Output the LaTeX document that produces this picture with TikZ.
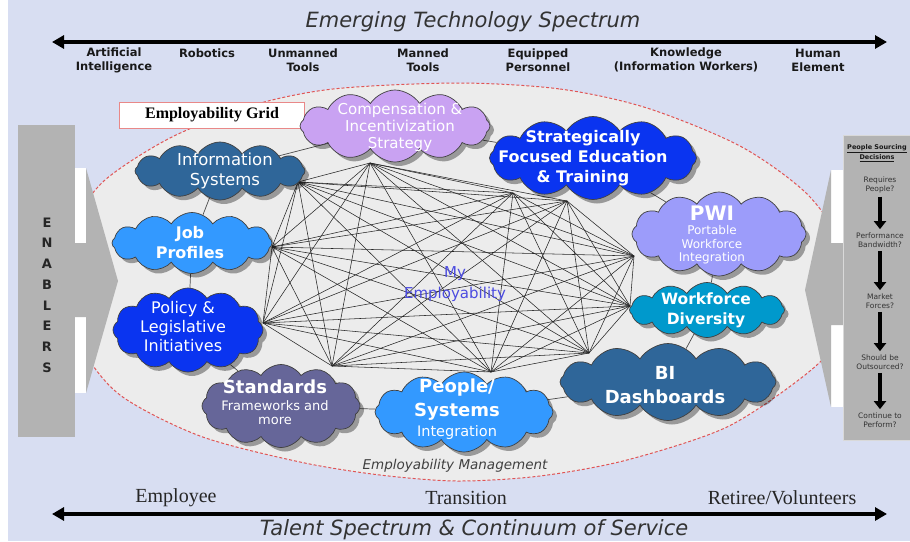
\documentclass[tikz,border=0pt]{standalone}
\usepackage{fontspec}
\setmainfont{DejaVu Sans}
\newfontfamily\tnr{Liberation Serif}
\usetikzlibrary{shapes.symbols,shadows,arrows.meta}
\definecolor{bgl}{HTML}{D8DEF2}
\definecolor{ellf}{HTML}{ECECEC}
\definecolor{reddash}{HTML}{E05555}
\definecolor{bargray}{HTML}{B3B3B3}
\definecolor{cComp}{HTML}{C9A2F2}
\definecolor{cIS}{HTML}{2F6699}
\definecolor{cBlue}{HTML}{0A34F0}
\definecolor{cLight}{HTML}{3399FF}
\definecolor{cPWI}{HTML}{9C9CFA}
\definecolor{cWD}{HTML}{0099CC}
\definecolor{cStd}{HTML}{666699}
\definecolor{cMy}{HTML}{4B4BE0}
\pgfdeclarelayer{back}
\pgfdeclarelayer{mid}
\pgfsetlayers{back,mid,main}
\tikzset{
  cl/.style={cloud, cloud puffs=12, cloud puff arc=115, cloud ignores aspect,
    draw=black!75, line width=.7pt, inner sep=0pt,
    drop shadow={shadow xshift=4pt, shadow yshift=-4pt, fill=black, opacity=0.35}},
  ct/.style={text=white, align=center, inner sep=0pt},
  gridline/.style={draw=black!85, line width=.55pt},
  ringline/.style={draw=black!70, line width=.7pt},
  spec/.style={line width=3.5pt, {Triangle[length=12pt,width=13pt]}-{Triangle[length=12pt,width=13pt]}},
  toplab/.style={font=\bfseries\fontsize{11.5}{14}\selectfont, align=center, text=black!90, inner sep=0pt},
  botlab/.style={font=\tnr\fontsize{20}{22}\selectfont, text=black!85, inner sep=0pt},
  ttl/.style={font=\itshape\fontsize{21}{24}\selectfont, text=black!80, inner sep=0pt},
  ptext/.style={font=\fontsize{7.5}{9.5}\selectfont, text=black!80, align=center, inner sep=0pt},
  darrow/.style={line width=4pt, -{Triangle[length=8pt,width=12pt]}, shorten <=3pt, shorten >=3pt},
}
\begin{document}
\begin{tikzpicture}[x=1pt,y=-1pt]
\useasboundingbox (0,0) rectangle (910,541);
\begin{pgfonlayer}{back}
\fill[white] (0,0) rectangle (910,541);
\fill[bgl] (8,0) rectangle (910,541);
% big employability region
\def\ellpts{(458,83) (560,89) (647,108) (740,146) (805,192) (840,240) (853,290) (840,338) (805,375) (727,427) (627,460) (540,476) (458,481) (380,475) (300,462) (200,436) (120,395) (80,345) (64,290) (78,220) (105,180) (170,138) (250,106) (333,89)}
\fill[ellf] plot[smooth cycle] coordinates {\ellpts};
\draw[reddash, line width=1pt, dash pattern=on 3pt off 2pt] plot[smooth cycle] coordinates {\ellpts};
\end{pgfonlayer}

% titles and spectrum arrows
\node[ttl] (ttop) at (473,22) {Emerging Technology Spectrum};
\coordinate (tl) at (52,42);
\coordinate (tr) at (887,42);
\draw[spec] (tl) -- (tr);
\node[toplab] (l1) at (114,60) {Artificial\\Intelligence};
\node[toplab] (l2) at (207,53) {Robotics};
\node[toplab] (l3) at (303,60) {Unmanned\\Tools};
\node[toplab] (l4) at (423,60) {Manned\\Tools};
\node[toplab] (l5) at (538,60) {Equipped\\Personnel};
\node[toplab] (l6) at (686,60) {Knowledge\\(Information Workers)};
\node[toplab] (l7) at (818,60) {Human\\Element};

\node[botlab] (b1) at (176,498) {Employee};
\node[botlab] (b2) at (466,498) {Transition};
\node[botlab] (b3) at (782,498) {Retiree/Volunteers};
\coordinate (bl) at (52,514);
\coordinate (br) at (887,514);
\draw[spec] (bl) -- (br);
\node[ttl] (tbot) at (474,530) {Talent Spectrum \& Continuum of Service};

% enablers
\fill[bargray] (18,125) rectangle (75,437);
\fill[white] (75,168) rectangle (86,393);
\fill[bargray] (74,243) -- (86,243) -- (86,168) -- (118,281) -- (86,393) -- (86,317) -- (74,317) -- cycle;
\node[font=\bfseries\fontsize{13}{20.7}\selectfont, align=center, text=black!85, inner sep=0pt] (enab) at (47,295) {E\\N\\A\\B\\L\\E\\R\\S};

% people sourcing decisions
\fill[white] (831,170) rectangle (843,407);
\fill[bargray] (844,243) -- (831,243) -- (831,170) -- (805,290) -- (831,407) -- (831,325) -- (844,325) -- cycle;
\filldraw[fill=bargray, draw=black!15, line width=1pt] (843,135) rectangle (912,440);
\node[ptext, font=\bfseries\fontsize{6.5}{10}\selectfont, text=black!90] (p0) at (877,153) {\underline{People Sourcing}\\\underline{Decisions}};
\node[ptext] (q1) at (880,185) {Requires\\People?};
\node[ptext] (q2) at (880,240) {Performance\\Bandwidth?};
\node[ptext] (q3) at (880,301) {Market\\Forces?};
\node[ptext] (q4) at (880,362) {Should be\\Outsourced?};
\node[ptext] (q5) at (880,420) {Continue to\\Perform?};
\draw[darrow] (q1) -- (q2);
\draw[darrow] (q2) -- (q3);
\draw[darrow] (q3) -- (q4);
\draw[darrow] (q4) -- (q5);

% employability grid label
\node[draw=reddash!70, fill=white, line width=1pt, minimum width=185pt, minimum height=26pt, inner sep=0pt,
      font=\tnr\bfseries\fontsize{16}{18}\selectfont] (egrid) at (212,115) {Employability Grid};

% hubs
\coordinate (h1) at (298,182);
\coordinate (h2) at (370,163);
\coordinate (h3) at (513,193);
\coordinate (h4) at (567,201);
\coordinate (h5) at (634,256);
\coordinate (h6) at (630,306);
\coordinate (h7) at (589,353);
\coordinate (h8) at (491,372);
\coordinate (h9) at (332,366);
\coordinate (h10) at (263,323);
\coordinate (h11) at (272,247);
\begin{pgfonlayer}{mid}
\foreach \i in {1,...,10}{
  \pgfmathtruncatemacro\s{\i+1}
  \foreach \j in {\s,...,11}{
    \ifnum\i=3 \ifnum\j=4 \else \draw[gridline] (h\i) -- (h\j); \fi
    \else \draw[gridline] (h\i) -- (h\j); \fi
  }
}
\end{pgfonlayer}

\node[text=cMy, align=center, font=\fontsize{15}{21}\selectfont, inner sep=0pt] (my) at (455,284) {My\\Employability};
\node[font=\itshape\fontsize{13.5}{16}\selectfont, text=black!75, inner sep=0pt] (emgmt) at (455,466) {Employability Management};

% clouds
\node[cl, fill=cComp, minimum width=190pt, minimum height=72pt] (comp) at (395,126) {};
\node[cl, fill=cIS, minimum width=170pt, minimum height=58pt] (is) at (220,171) {};
\node[cl, fill=cBlue, minimum width=207pt, minimum height=83pt] (sfet) at (593,158) {};
\node[cl, fill=cLight, minimum width=160pt, minimum height=61pt] (jp) at (192,243) {};
\node[cl, fill=cPWI, minimum width=174pt, minimum height=84pt] (pwi) at (719,234) {};
\node[cl, fill=cBlue, minimum width=150pt, minimum height=84pt] (pol) at (188,330) {};
\node[cl, fill=cWD, minimum width=155pt, minimum height=55pt] (wd) at (707,310) {};
\node[cl, fill=cStd, minimum width=158pt, minimum height=83pt] (std) at (281,406) {};
\node[cl, fill=cLight, minimum width=178pt, minimum height=80pt] (psi) at (464,412) {};
\node[cl, fill=cIS, minimum width=216pt, minimum height=77pt] (bi) at (668,382) {};

\begin{pgfonlayer}{mid}
\draw[ringline] (comp) -- (is);
\draw[ringline] (is) -- (jp);
\draw[ringline] (jp) -- (pol);
\draw[ringline] (pol) -- (std);
\draw[ringline] (std) -- (psi);
\draw[ringline] (psi) -- (bi);
\draw[ringline] (bi) -- (wd);
\draw[ringline] (wd) -- (pwi);
\draw[ringline] (pwi) -- (sfet);
\draw[ringline] (sfet) -- (comp);
\end{pgfonlayer}

\node[ct, font=\fontsize{15}{17}\selectfont] (tcomp) at (400,127) {Compensation \&\\Incentivization\\Strategy};
\node[ct, font=\fontsize{16.5}{20}\selectfont] (tis) at (225,171) {Information\\Systems};
\node[ct, font=\bfseries\fontsize{16}{20}\selectfont] (tsfet) at (583,158) {Strategically\\Focused Education\\\& Training};
\node[ct, font=\bfseries\fontsize{16}{20}\selectfont] (tjp) at (190,243) {Job\\Profiles};
\node[ct, font=\bfseries\fontsize{20}{22}\selectfont] (tpwi) at (712,213) {PWI};
\node[ct, font=\fontsize{12}{13.5}\selectfont] (tpwi2) at (712,245) {Portable\\Workforce\\Integration};
\node[ct, font=\fontsize{16}{19}\selectfont] (tpol) at (183,327) {Policy \&\\Legislative\\Initiatives};
\node[ct, font=\bfseries\fontsize{15.5}{20}\selectfont] (twd) at (706,310) {Workforce\\Diversity};
\node[ct, font=\bfseries\fontsize{18}{20}\selectfont] (tstd) at (275,387) {Standards};
\node[ct, font=\fontsize{13}{14}\selectfont] (tstd2) at (275,413) {Frameworks and\\more};
\node[ct, font=\bfseries\fontsize{18}{24}\selectfont] (tpsi) at (457,400) {People/\\Systems};
\node[ct, font=\fontsize{14.5}{16}\selectfont] (tpsi2) at (457,432) {Integration};
\node[ct, font=\bfseries\fontsize{18}{24}\selectfont] (tbi) at (665,385) {BI\\Dashboards};
\end{tikzpicture}
\end{document}
